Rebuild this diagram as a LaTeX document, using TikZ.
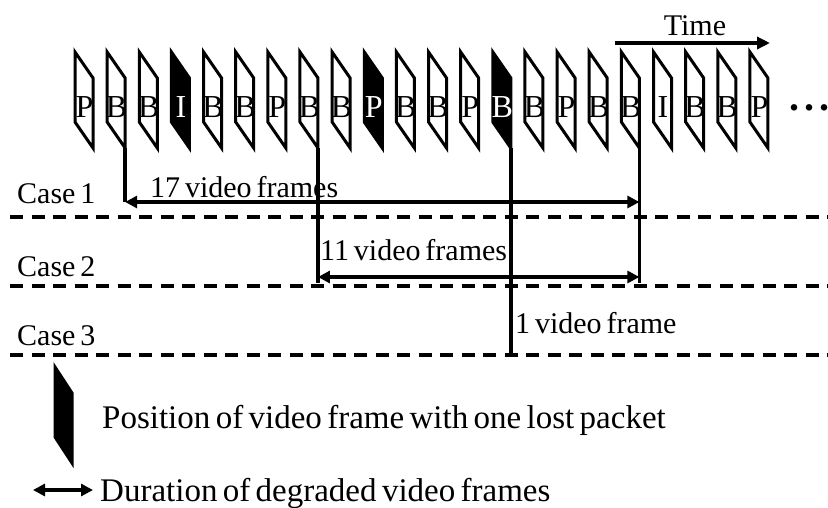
\documentclass[tikz,border=0pt]{standalone}
\usepackage{fontspec}
\setmainfont{Liberation Serif}[WordSpace={0.65}]
\usetikzlibrary{arrows.meta,positioning,calc}

\begin{document}
\begin{tikzpicture}[x=1pt,y=-1pt,
  every node/.style={inner sep=0pt,font=\fontsize{30}{36}\selectfont},
  framebox/.style={draw,line width=3pt},
  frw/.style={framebox},
  frk/.style={framebox,fill=black},
  lblw/.style={text=black},
  lblk/.style={text=white},
  dropline/.style={line width=3.5pt},
  durarrow/.style={line width=3.5pt,
    {Triangle[length=12pt,width=12pt]}-{Triangle[length=12pt,width=12pt]}},
  timearrow/.style={line width=3.5pt,-{Triangle[length=13pt,width=12pt]}},
  caseline/.style={line width=3.5pt,dash pattern=on 13pt off 8.5pt}]
  \useasboundingbox (0,0) rectangle (828,507);
  % GOP row
  \foreach \t/\s [count=\i] in {P/w,B/w,B/w,I/k,B/w,B/w,P/w,B/w,B/w,P/k,B/w,
      B/w,P/w,B/k,B/w,P/w,B/w,B/w,I/w,B/w,B/w,P/w}{
    \pgfmathsetmacro{\fx}{75+(\i-1)*32.14}
    \coordinate (f\i) at (\fx,52);
    \draw[fr\s] (f\i) -- ++(18,26) -- ++(0,70) coordinate (f\i-br)
      -- ++(-18,-26) -- cycle;
    \node[lbl\s,anchor=base,font=\fontsize{32}{36}\selectfont] (l\i)
      at ($(f\i)+(9.5,65)$) {\t};
  }
  \node[anchor=base west,font=\fontsize{40}{40}\bfseries] (dots) at (789,110)
    {.\hspace{5pt}.\hspace{5pt}.};
  % time axis
  \coordinate (t0) at (615,43);
  \coordinate (t1) at (770,43);
  \draw[timearrow] (t0) -- (t1);
  \node[anchor=base] (time) at (695,35) {Time};
  % cases
  \foreach \y/\b [count=\k] in {217/203,286/276,355/345}{
    \coordinate (cw\k) at (10,\y);
    \coordinate (ce\k) at (828,\y);
    \draw[caseline] (cw\k) -- (ce\k);
    \node[anchor=base west] (case\k) at (17,\b) {Case\,\k};
  }
  \path (f2-br) ++(0,54) coordinate (c1l);
  \path (f18-br) ++(0,54) coordinate (c1r);
  \path (f8-br) ++(0,129) coordinate (c2l);
  \path (f18-br) ++(0,129) coordinate (c2r);
  \path (f8-br) ++(0,135) coordinate (d8);
  \path (f18-br) ++(0,135) coordinate (d18);
  \path (f14-br) ++(0,207) coordinate (d14);
  \draw[dropline] (f2-br) -- (c1l);
  \draw[dropline] (f8-br) -- (d8);
  \draw[dropline] (f14-br) -- (d14);
  \draw[dropline] (f18-br) -- (d18);
  \draw[durarrow] (c1l) -- (c1r);
  \draw[durarrow] (c2l) -- (c2r);
  \node[anchor=base west] (n17) at (150,197) {17 video frames};
  \node[anchor=base west] (n11) at (320,260) {11 video frames};
  \node[anchor=base west] (n1) at (515,333) {1 video frame};
  % legend
  \coordinate (lg) at (55,367);
  \draw[frk] (lg) -- ++(17,26) -- ++(0,70) -- ++(-17,-26) -- cycle;
  \node[anchor=base west,font=\fontsize{33}{38}\selectfont] (lgtxt1)
    at (102,428) {Position of video frame with one lost packet};
  \coordinate (la) at (33,490);
  \coordinate (lb) at (93,490);
  \draw[durarrow] (la) -- (lb);
  \node[anchor=base west,font=\fontsize{33}{38}\selectfont] (lgtxt2)
    at (100,501) {Duration of degraded video frames};
\end{tikzpicture}
\end{document}
